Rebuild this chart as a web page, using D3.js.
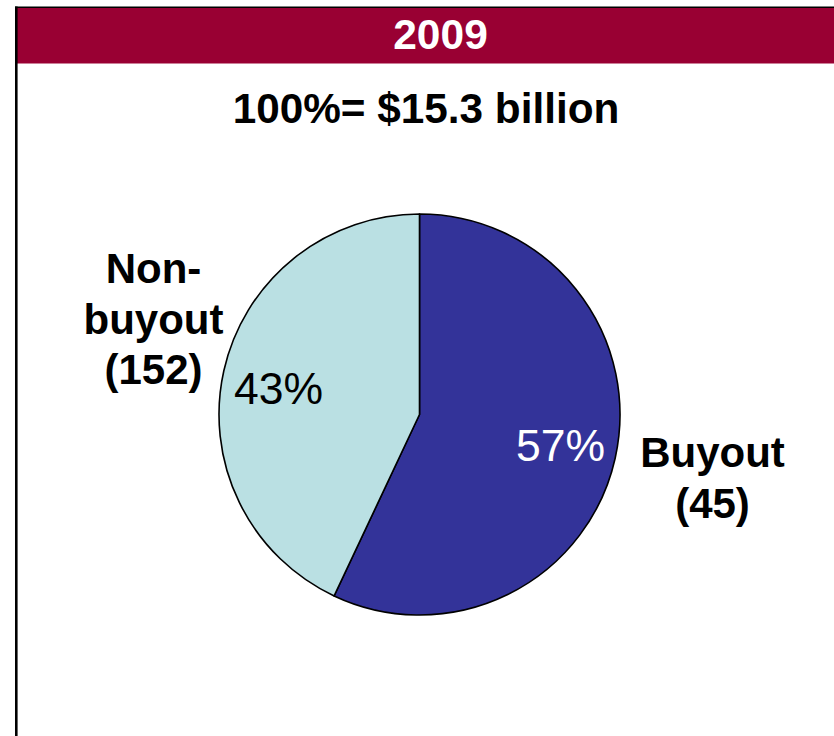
<!DOCTYPE html>
<html>
<head>
<meta charset="utf-8">
<script src="https://cdn.jsdelivr.net/npm/d3@7/dist/d3.min.js"></script>
<style>
  html, body { margin: 0; padding: 0; background: #fff; }
  svg { display: block; font-family: "Liberation Sans", Arial, sans-serif; }
</style>
</head>
<body>
<svg id="chart" width="834" height="736"></svg>
<script>
// Deal value split, 2009
const year = "2009";
const totalLabel = "100%= $15.3 billion";
const categories = ["Buyout", "Non-buyout"];
const shares = [57, 43];          // percent of total value
const dealCounts = [45, 152];     // number of deals
const labelLines = [["Buyout", "(45)"], ["Non-", "buyout", "(152)"]];
const colors = ["#333399", "#BAE0E3"];
const pctColors = ["#ffffff", "#000000"];

const svg = d3.select("#chart");

// Panel frame and header band
svg.append("rect").attr("x", 17).attr("y", 7.5).attr("width", 830).attr("height", 56)
  .attr("fill", "#990033");
svg.append("line").attr("x1", 15).attr("x2", 834).attr("y1", 7.2).attr("y2", 7.2)
  .attr("stroke", "#000").attr("stroke-width", 1.4);
svg.append("line").attr("x1", 16.3).attr("x2", 16.3).attr("y1", 6.5).attr("y2", 736)
  .attr("stroke", "#000").attr("stroke-width", 2.6);

svg.append("text").attr("x", 440.5).attr("y", 48.5)
  .attr("text-anchor", "middle").attr("font-weight", "bold").attr("font-size", 42.5)
  .attr("fill", "#fff").text(year);

svg.append("text").attr("x", 426).attr("y", 123)
  .attr("text-anchor", "middle").attr("font-weight", "bold").attr("font-size", 42.3)
  .attr("fill", "#000").text(totalLabel);

// Pie
const cx = 419.5, cy = 414.5, radius = 200.5;
const data = categories.map((c, i) => ({ category: c, share: shares[i], count: dealCounts[i], i }));
const pie = d3.pie().sort(null).value(d => d.share).startAngle(0).endAngle(2 * Math.PI);
const arc = d3.arc().innerRadius(0).outerRadius(radius);
const arcs = pie(data);

const g = svg.append("g").attr("transform", `translate(${cx},${cy})`);
g.selectAll("path.slice").data(arcs).join("path")
  .attr("class", "slice")
  .attr("d", arc)
  .attr("fill", d => colors[d.data.i])
  .attr("stroke", "#000").attr("stroke-width", 1.6).attr("stroke-linejoin", "round");

// Percent labels inside slices
const pctPos = [[141, 46], [-141, -11]];
g.selectAll("text.pct").data(arcs).join("text")
  .attr("class", "pct")
  .attr("x", (d, i) => pctPos[i][0]).attr("y", (d, i) => pctPos[i][1])
  .attr("text-anchor", "middle").attr("font-size", 44.5)
  .attr("fill", d => pctColors[d.data.i])
  .text(d => `${d.data.share}%`);

// Category labels outside the pie
const labelPos = [[712.5, 467], [153.5, 283]];
const lineGap = 50.5;
arcs.forEach((d, i) => {
  const t = svg.append("text")
    .attr("text-anchor", "middle").attr("font-weight", "bold").attr("font-size", 42)
    .attr("fill", "#000");
  labelLines[i].forEach((ln, k) => {
    t.append("tspan").attr("x", labelPos[i][0]).attr("y", labelPos[i][1] + k * lineGap).text(ln);
  });
});
</script>
</body>
</html>
